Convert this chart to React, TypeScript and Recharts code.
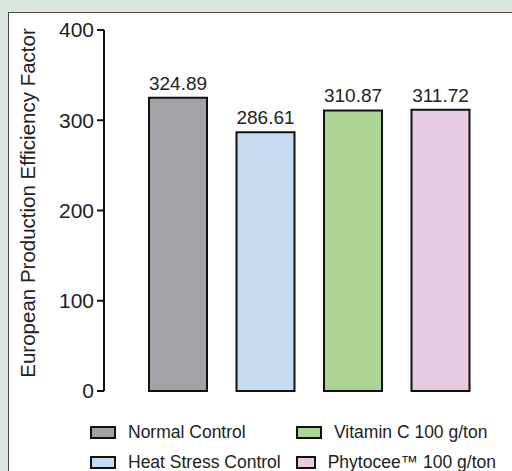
import { BarChart, Bar, XAxis, YAxis, Cell, LabelList } from 'recharts';

const groups = ['Normal Control', 'Heat Stress Control', 'Vitamin C 100 g/ton', 'Phytocee™ 100 g/ton'];
const epef = [324.89, 286.61, 310.87, 311.72];
const fills = ['#a2a3a7', '#c5dbf1', '#acd494', '#e7cbe2'];
const yTicks = [0, 100, 200, 300, 400];
const yTitle = 'European Production Efficiency Factor';

const data = groups.map((name, i) => ({ name, value: epef[i] }));

const font = '"Liberation Sans", Arial, Helvetica, sans-serif';
const ink = '#111';

function YTitle() {
  return (
    <text
      x={27}
      y={203}
      transform="rotate(-90 27 203)"
      textAnchor="middle"
      dominantBaseline="central"
      fontSize={20.5}
      fill="#222"
      fontFamily={font}
    >
      {yTitle}
    </text>
  );
}

export default function App() {
  return (
    <div style={{ position: 'fixed', left: 0, top: 0, width: 512, height: 471, background: '#d9e5dd', overflow: 'hidden', fontFamily: font }}>
      <div
        style={{
          position: 'absolute',
          left: 8,
          top: 12,
          width: 520,
          height: 480,
          background: '#fff',
          borderTop: '1px solid #4a4a4a',
          borderLeft: '1px solid #4a4a4a',
        }}
      />
      <div style={{ position: 'absolute', left: 0, top: 0 }}>
        <BarChart width={512} height={471} data={data} margin={{ top: 30, right: 0, bottom: 80, left: 0 }}>
          <XAxis
            dataKey="name"
            height={0}
            tick={false}
            tickLine={false}
            axisLine={{ stroke: ink, strokeWidth: 2 }}
            padding={{ left: 30, right: 28 }}
          />
          <YAxis
            width={104}
            domain={[0, 400]}
            ticks={yTicks}
            interval={0}
            tickSize={7}
            tickMargin={3}
            axisLine={{ stroke: ink, strokeWidth: 2 }}
            tickLine={{ stroke: ink, strokeWidth: 2 }}
            tick={{ fill: '#222', fontSize: 21, fontFamily: font }}
            label={{ content: () => <YTitle /> }}
          />
          <Bar dataKey="value" barSize={58} stroke={ink} strokeWidth={2} isAnimationActive={false}>
            {data.map((d, i) => (
              <Cell key={d.name} fill={fills[i]} />
            ))}
            <LabelList
              dataKey="value"
              position="top"
              offset={8}
              fill="#222"
              fontSize={19}
              fontFamily={font}
              formatter={(v: number) => v.toFixed(2)}
            />
          </Bar>
        </BarChart>
      </div>
      <div
        style={{
          position: 'absolute',
          left: 90,
          top: 417,
          display: 'grid',
          gridAutoFlow: 'column',
          gridTemplateRows: 'repeat(2, 30px)',
          gridTemplateColumns: '206px 200px',
          fontSize: 17.5,
          color: '#222',
        }}
      >
        {groups.map((g, i) => (
          <div key={g} style={{ display: 'flex', alignItems: 'center', whiteSpace: 'nowrap' }}>
            <span
              style={{
                display: 'inline-block',
                width: 22,
                height: 9,
                background: fills[i],
                border: `2px solid ${ink}`,
                marginRight: 12,
              }}
            />
            {g}
          </div>
        ))}
      </div>
    </div>
  );
}
